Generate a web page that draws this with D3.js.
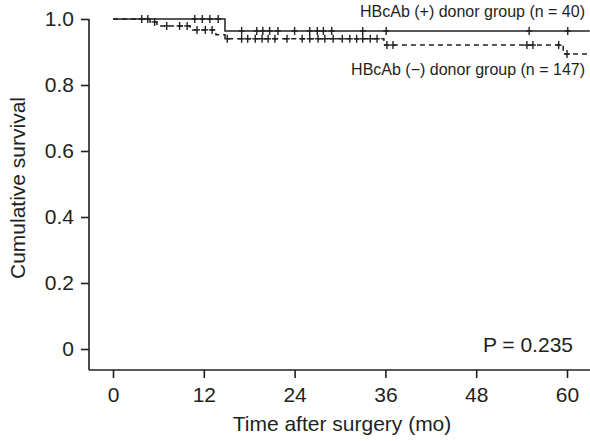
<!DOCTYPE html>
<html><head><meta charset="utf-8">
<script src="https://cdn.jsdelivr.net/npm/d3@7"></script>
<style>
html,body{margin:0;padding:0;background:#fff;}
text{font-family:"Liberation Sans",Arial,Helvetica,sans-serif;fill:#231f20;}
</style></head>
<body>
<svg id="chart" width="590" height="441"></svg>
<script>
// ---- data ----
const xTicks = [0, 12, 24, 36, 48, 60];
const yTicks = [0, 0.2, 0.4, 0.6, 0.8, 1.0];
const yTickLabels = ["0", "0.2", "0.4", "0.6", "0.8", "1.0"];
const followEnd = 63;

// HBcAb (+) donor group (n = 40): event times and survival after each event
const posEventTimes = [14.8];
const posSurvival = [0.964];
const posCensor = [3.8, 10.8, 11.8, 12.8, 13.9, 17.0, 19.0, 19.8, 20.7, 21.8, 24.0, 26.0, 27.0, 27.8, 28.9, 33.0, 36.1, 55.0, 60.1];

// HBcAb (-) donor group (n = 147)
const negEventTimes = [4.9, 5.8, 10.2, 13.6, 14.8, 35.8, 59.5];
const negSurvival = [0.991, 0.979, 0.967, 0.952, 0.940, 0.921, 0.894];
const negCensor = [4.6, 5.5, 7.1, 8.8, 9.8, 11.1, 12.2, 13.1, 15.1, 17.0, 17.8, 18.8, 19.7, 20.5, 21.4, 23.0, 25.0, 26.0, 27.1, 28.0, 29.1, 30.3, 31.3, 32.2, 33.0, 34.0, 34.9, 36.2, 37.0, 54.7, 55.5, 58.9, 60.0];

const legendPos = "HBcAb (+) donor group (n = 40)";
const legendNeg = "HBcAb (\u2212) donor group (n = 147)";
const pText = "P = 0.235";

// ---- layout ----
const svg = d3.select("#chart");
const x = d3.scaleLinear().domain([0, 60]).range([113, 567]);
const y = d3.scaleLinear().domain([0, 1]).range([349, 19]);
const axisY = 370, axisX = 89, ink = "#231f20";

function stepData(times, surv) {
  const pts = [{t: 0, s: 1}];
  times.forEach((t, i) => pts.push({t: t, s: surv[i]}));
  pts.push({t: followEnd, s: surv[surv.length - 1]});
  return pts;
}
function survAt(times, surv, t) {
  let s = 1;
  times.forEach((tt, i) => { if (tt <= t) s = surv[i]; });
  return s;
}
const line = d3.line().x(d => x(d.t)).y(d => y(d.s)).curve(d3.curveStepAfter);

// axes
const gy = svg.append("g").attr("transform", `translate(${axisX},0)`)
  .call(d3.axisLeft(y).tickValues(yTicks).tickFormat((d, i) => yTickLabels[i]).tickSize(8).tickPadding(7));
gy.select(".domain").remove();
gy.append("line").attr("x1", 0).attr("x2", 0).attr("y1", y(1)).attr("y2", axisY).attr("stroke", ink).attr("stroke-width", 1.6);
gy.selectAll(".tick line").attr("stroke", ink).attr("stroke-width", 1.6);
gy.selectAll(".tick text").style("font-size", "21px").attr("fill", ink);

const gx = svg.append("g").attr("transform", `translate(0,${axisY})`)
  .call(d3.axisBottom(x).tickValues(xTicks).tickSize(8).tickPadding(9));
gx.select(".domain").remove();
gx.append("line").attr("x1", axisX).attr("x2", 590).attr("y1", 0).attr("y2", 0).attr("stroke", ink).attr("stroke-width", 1.6);
gx.selectAll(".tick line").attr("stroke", ink).attr("stroke-width", 1.6);
gx.selectAll(".tick text").style("font-size", "21px").attr("fill", ink);

// axis titles
svg.append("text").attr("x", 342).attr("y", 431).attr("text-anchor", "middle").style("font-size", "21px").text("Time after surgery (mo)");
svg.append("text").attr("transform", "translate(25,188) rotate(-90)").attr("text-anchor", "middle").style("font-size", "21px").text("Cumulative survival");

// curves
svg.append("path").datum(stepData(negEventTimes, negSurvival)).attr("d", line)
  .attr("fill", "none").attr("stroke", ink).attr("stroke-width", 1.5).attr("stroke-dasharray", "5,4");
svg.append("path").datum(stepData(posEventTimes, posSurvival)).attr("d", line)
  .attr("fill", "none").attr("stroke", ink).attr("stroke-width", 1.5);

function censor(times, surv, marks) {
  const g = svg.append("g").attr("stroke", ink).attr("stroke-width", 1.4);
  marks.forEach(t => {
    const cx = x(t), cy = y(survAt(times, surv, t));
    g.append("line").attr("x1", cx).attr("x2", cx).attr("y1", cy - 4).attr("y2", cy + 4);
    g.append("line").attr("x1", cx - 3).attr("x2", cx + 3).attr("y1", cy).attr("y2", cy);
  });
}
censor(negEventTimes, negSurvival, negCensor);
censor(posEventTimes, posSurvival, posCensor);

// legends & p-value
svg.append("text").attr("x", 585).attr("y", 17).attr("text-anchor", "end").style("font-size", "16px").text(legendPos);
svg.append("text").attr("x", 585).attr("y", 75).attr("text-anchor", "end").style("font-size", "16px").text(legendNeg);
svg.append("text").attr("x", 573).attr("y", 352).attr("text-anchor", "end").style("font-size", "21px").text(pText);
</script>
</body></html>
